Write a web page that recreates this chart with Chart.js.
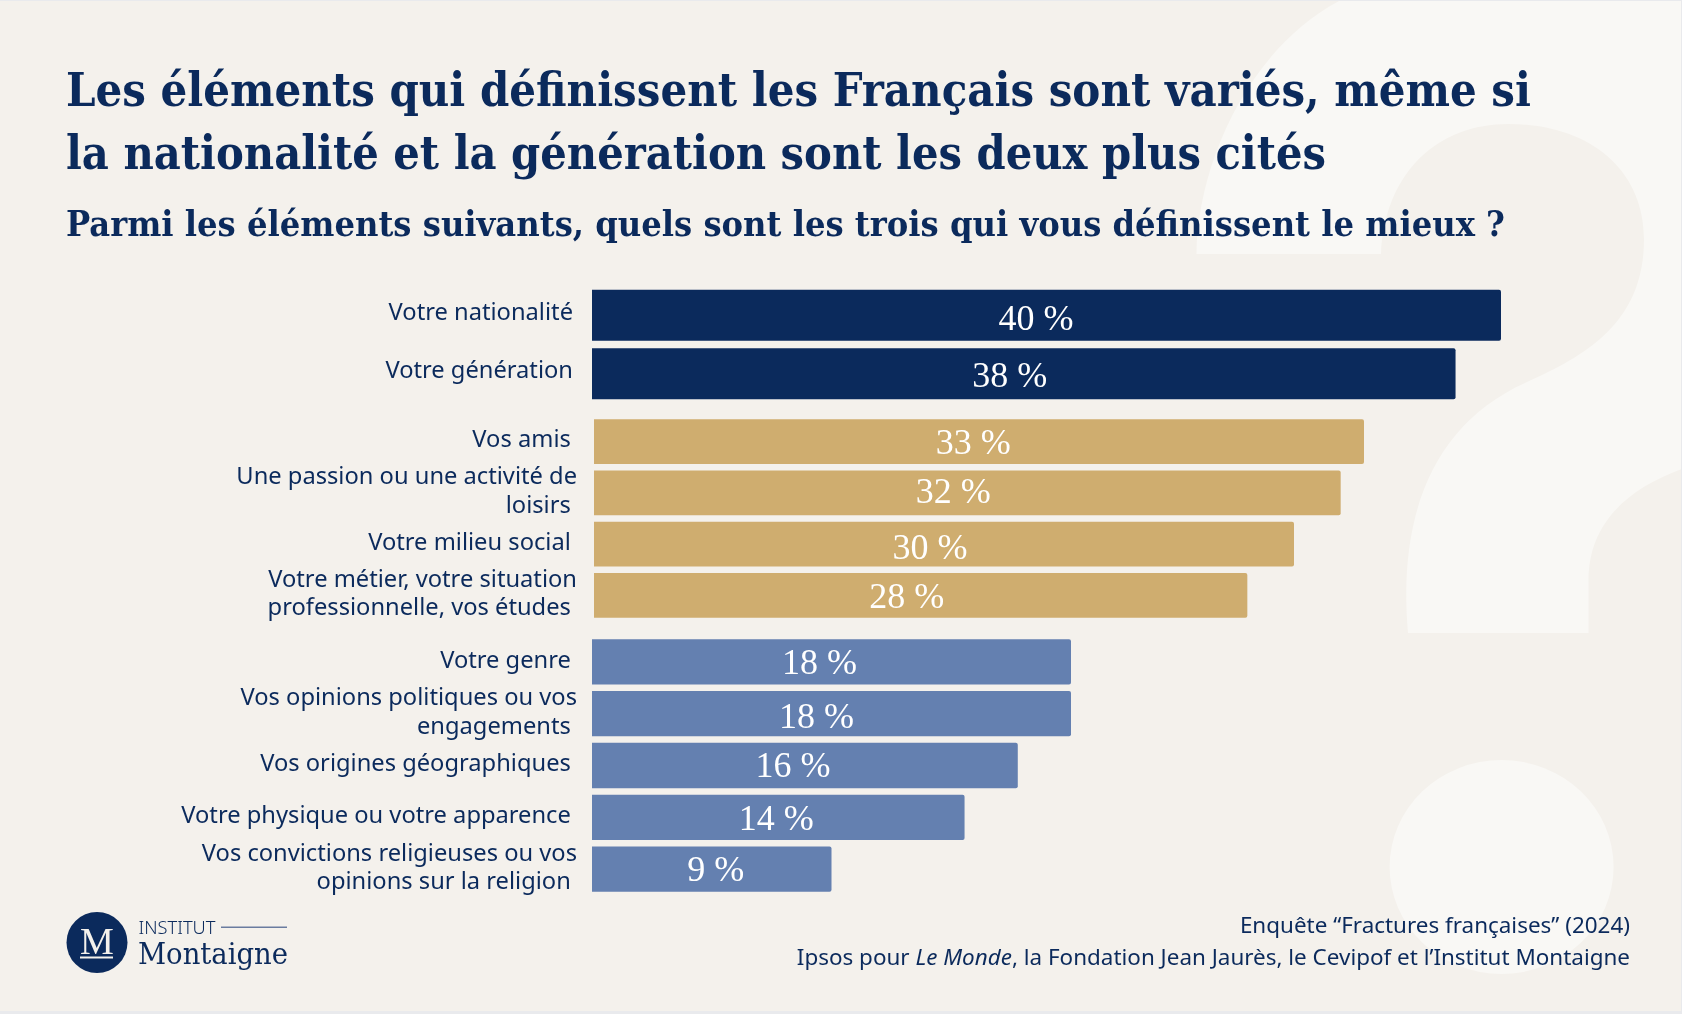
<!DOCTYPE html>
<html lang="fr">
<head>
<meta charset="utf-8">
<title>Fractures françaises 2024</title>
<script src="https://cdn.jsdelivr.net/npm/chart.js@4"></script>
<style>
  html, body { margin: 0; padding: 0; background: #e9eaed; }
  #page { position: relative; width: 1682px; height: 1014px; overflow: hidden; }
  #slide { position: absolute; left: 0; top: 1px; width: 1681px; height: 1010px; background: #f4f1ec; overflow: hidden; }
  svg { position: absolute; left: 0; top: 0; }
  canvas { position: absolute; left: 0; }
  text { fill: #0b2a5c; }
  .serif { font-family: "DejaVu Serif Condensed", "DejaVu Serif", serif; font-weight: 700; }
  .sans { font-family: "Noto Sans", sans-serif; }
</style>
</head>
<body>
<div id="page">
  <div id="slide">
    <svg width="1682" height="1014" style="top:-1px">
      <!-- grand point d'interrogation en fond -->
      <path fill="#f9f8f5" d="M1196.5 254 C1197 170 1245 50 1341 0 L1682 0 L1682 469 C1625 490 1588 525 1588.5 582 L1588.5 633 L1408 633 C1398 520 1430 425 1527 382 C1590 354 1644 320 1644 239 C1644 170 1590 124 1508 124 C1440 124 1385 170 1381 254 Z"/>
      <ellipse fill="#f9f8f5" cx="1501.6" cy="867" rx="112" ry="107"/>
    </svg>
    <canvas id="chartTop" width="1501" height="117" style="top:285px"></canvas>
    <canvas id="chartMid" width="1364" height="205" style="top:415px"></canvas>
    <canvas id="chartLow" width="1071" height="259" style="top:635px"></canvas>
    <svg width="1682" height="1014" style="top:-1px">
      <text class="serif" x="66" y="106" font-size="46" textLength="1465" lengthAdjust="spacingAndGlyphs">Les éléments qui définissent les Français sont variés, même si</text>
      <text class="serif" x="66" y="169" font-size="46" textLength="1260" lengthAdjust="spacingAndGlyphs">la nationalité et la génération sont les deux plus cités</text>
      <text class="serif" x="66" y="236" font-size="36" textLength="1439" lengthAdjust="spacingAndGlyphs">Parmi les éléments suivants, quels sont les trois qui vous définissent le mieux ?</text>

      <text class="sans" x="1630" y="933" font-size="22.45" text-anchor="end">Enquête “Fractures françaises” (2024)</text>
      <text class="sans" x="1630" y="964.5" font-size="22.45" text-anchor="end">Ipsos pour <tspan font-style="italic">Le Monde</tspan>, la Fondation Jean Jaurès, le Cevipof et l’Institut Montaigne</text>

      <circle cx="97" cy="942.5" r="30.5" fill="#0b2a5c"/>
      <text x="97" y="953.5" font-size="38" text-anchor="middle" style="fill:#f4f1ec;font-family:'Liberation Serif',serif">M</text>
      <rect x="80" y="956.5" width="33" height="2" fill="#f4f1ec"/>
      <text class="sans" x="138.5" y="933.5" font-size="18" font-weight="300" textLength="77" lengthAdjust="spacingAndGlyphs">INSTITUT</text>
      <rect x="221" y="926.5" width="66" height="1.5" fill="#6a7c9f"/>
      <text x="138" y="963.5" font-size="29" textLength="150" lengthAdjust="spacingAndGlyphs" style="font-family:'DejaVu Serif Condensed','DejaVu Serif',serif">Montaigne</text>
    </svg>
  </div>
</div>

<script>
const navy = '#0b2a5c';
const gold = '#cfad6f';
const blue = '#6480b0';

const topLabels = ['Votre nationalité', 'Votre génération'];
const topValues = [40, 38];

const midLabels = [
  'Vos amis ',
  ['Une passion ou une activité de', 'loisirs '],
  'Votre milieu social ',
  ['Votre métier, votre situation', 'professionnelle, vos études '],
];
const midValues = [33, 32, 30, 28];

const lowLabels = [
  'Votre genre ',
  ['Vos opinions politiques ou vos', 'engagements '],
  'Vos origines géographiques ',
  'Votre physique ou votre apparence ',
  ['Vos convictions religieuses ou vos', 'opinions sur la religion '],
];
const lowValues = [18, 18, 16, 14, 9];

// les etiquettes de valeur ne sont pas centrees pile dans l'original
const topNudge = [[-10.5, 5], [-14, 4]];
const midNudge = [[-5.7, 3], [-14, 1], [-14, 5], [-14, 3]];
const lowNudge = [[-12, 3], [-15, 4.6], [-12, 2], [-2, 3], [4, 2]];

const valueLabels = {
  id: 'valueLabels',
  afterDatasetsDraw(chart, args, opts) {
    const ctx = chart.ctx;
    ctx.save();
    ctx.fillStyle = '#ffffff';
    ctx.font = '36px "Liberation Serif", serif';
    ctx.textAlign = 'center';
    ctx.textBaseline = 'middle';
    chart.getDatasetMeta(0).data.forEach((bar, i) => {
      const mid = (bar.base + bar.x) / 2;
      const text = chart.data.datasets[0].data[i] + ' %';
      ctx.fillText(text, mid + opts.nudge[i][0], bar.y + opts.nudge[i][1]);
    });
    ctx.restore();
  },
};

function makeChart(id, labels, values, color, axisWidth, padding, labelOffset, nudge) {
  return new Chart(document.getElementById(id), {
    type: 'bar',
    data: {
      labels: labels,
      datasets: [{
        data: values,
        backgroundColor: color,
        borderRadius: 2,
        borderSkipped: 'left',
        barPercentage: 1,
        categoryPercentage: 0.875,
      }],
    },
    options: {
      indexAxis: 'y',
      responsive: false,
      animation: false,
      layout: { padding: 0 },
      plugins: {
        legend: { display: false },
        tooltip: { enabled: false },
        valueLabels: { nudge: nudge },
      },
      scales: {
        x: { display: false, min: 0, max: values[0] },
        y: {
          grid: { display: false, drawTicks: false },
          border: { display: false },
          afterFit: (scale) => {
            scale.width = axisWidth;
            // les libelles ne doivent pas reduire la zone des barres
            scale.paddingTop = 0;
            scale.paddingBottom = 0;
          },
          ticks: {
            autoSkip: false,
            padding: padding,
            labelOffset: labelOffset,
            color: navy,
            font: { family: '"Noto Sans", sans-serif', size: 23.7, lineHeight: 1.2 },
          },
        },
      },
    },
    plugins: [valueLabels],
  });
}

makeChart('chartTop', topLabels, topValues, navy, 592, 19, -2, topNudge);
makeChart('chartMid', midLabels, midValues, gold, 594, 17, -1, midNudge);
makeChart('chartLow', lowLabels, lowValues, blue, 592, 15, -1, lowNudge);
</script>
</body>
</html>
